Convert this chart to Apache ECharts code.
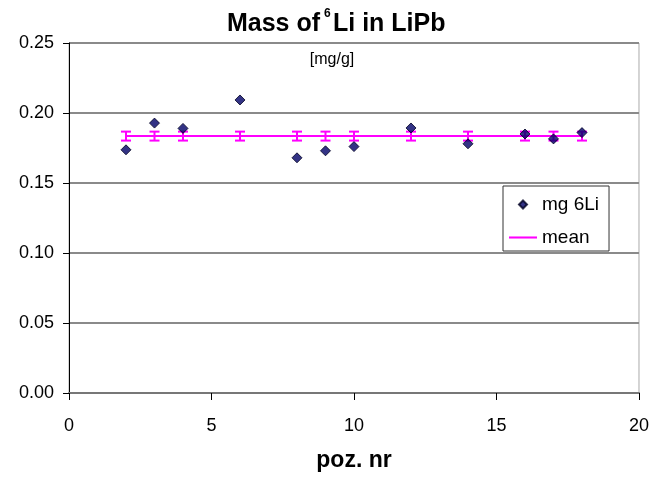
<!DOCTYPE html>
<html>
<head>
<meta charset="utf-8">
<script src="https://cdn.jsdelivr.net/npm/echarts@6/dist/echarts.min.js"></script>
<style>
  html, body { margin: 0; padding: 0; background: #fff; }
  #chart { width: 652px; height: 477px; }
</style>
</head>
<body>
<div id="chart"></div>
<script>
// positions (poz. nr) and measured mass of 6Li [mg/g]
const positions = [2, 3, 4, 6, 8, 9, 10, 12, 14, 16, 17, 18];
const massLi6 = [0.1737, 0.1928, 0.189, 0.2093, 0.168, 0.173, 0.176, 0.1893, 0.178, 0.185, 0.1815, 0.186];
// mean value and its error bar half-width
const meanValue = 0.1835;
const meanError = 0.0032;
const yTicks = [0, 0.05, 0.1, 0.15, 0.2, 0.25];
const xTicks = [0, 5, 10, 15, 20];

const chart = echarts.init(document.getElementById('chart'));

const font = 'Liberation Sans, Arial, sans-serif';

const option = {
  animation: false,
  backgroundColor: '#fff',
  graphic: [
    // title: "Mass of  6Li in LiPb" with superscript 6
    { type: 'text', x: 320, y: 24, style: { text: 'Mass of', font: 'bold 25px ' + font, fill: '#000', align: 'right', verticalAlign: 'middle' } },
    { type: 'text', x: 324, y: 14, style: { text: '6', font: 'bold 12px ' + font, fill: '#000', align: 'left', verticalAlign: 'middle' } },
    { type: 'text', x: 333, y: 24, style: { text: 'Li in LiPb', font: 'bold 25px ' + font, fill: '#000', align: 'left', verticalAlign: 'middle' } },
    { type: 'text', x: 332, y: 60, style: { text: '[mg/g]', font: '16px ' + font, fill: '#000', align: 'center', verticalAlign: 'middle' } }
  ],
  legend: {
    orient: 'vertical',
    left: 503,
    top: 186,
    itemGap: 14,
    padding: [9, 10, 4, 6],
    borderColor: '#333',
    borderWidth: 1,
    backgroundColor: '#fff',
    itemWidth: 28,
    itemHeight: 8,
    textStyle: { fontFamily: font, fontSize: 19, color: '#000' },
    data: [
      { name: 'mg 6Li', icon: 'path://M5,0 L10,5 L5,10 L0,5 Z' },
      { name: 'mean', icon: 'path://M0,0 L27,0 L27,2 L0,2 Z' }
    ]
  },
  grid: {
    left: 69,
    right: 11,
    top: 43,
    bottom: 80,
    show: true,
    borderColor: '#aaa',
    borderWidth: 1
  },
  xAxis: {
    type: 'value',
    min: 0,
    max: 20,
    interval: 5,
    name: 'poz. nr',
    nameLocation: 'middle',
    nameGap: 56,
    nameTextStyle: { fontFamily: font, fontWeight: 'bold', fontSize: 23, color: '#000' },
    axisLine: { show: true, lineStyle: { color: '#777', width: 2 } },
    axisTick: { show: true, inside: false, length: 7, lineStyle: { color: '#000' } },
    axisLabel: { fontFamily: font, fontSize: 18, color: '#000', margin: 24,
      formatter: v => xTicks.includes(v) ? String(v) : '' },
    splitLine: { show: false }
  },
  yAxis: {
    type: 'value',
    min: 0,
    max: 0.25,
    interval: 0.05,
    axisLine: { show: true, lineStyle: { color: '#000', width: 1 } },
    axisTick: { show: true, inside: false, length: 6, lineStyle: { color: '#000' } },
    axisLabel: { fontFamily: font, fontSize: 18, color: '#000', margin: 15,
      formatter: v => yTicks.some(t => Math.abs(t - v) < 1e-9) ? v.toFixed(2) : '' },
    splitLine: { show: true, lineStyle: { color: '#8a8a8a', width: 2 } }
  },
  series: [
    {
      name: 'mean',
      type: 'line',
      data: [[positions[0], meanValue], [positions[positions.length - 1], meanValue]],
      symbol: 'none',
      itemStyle: { color: '#ff00ff' },
      lineStyle: { color: '#ff00ff', width: 2 },
      z: 2
    },
    {
      name: 'mean-err',
      type: 'custom',
      data: positions.map(x => [x, meanValue - meanError, meanValue + meanError]),
      renderItem: function (params, api) {
        const lo = api.coord([api.value(0), api.value(1)]);
        const hi = api.coord([api.value(0), api.value(2)]);
        const w = 5;
        const st = { stroke: '#ff00ff', lineWidth: 2 };
        return {
          type: 'group',
          children: [
            { type: 'line', shape: { x1: lo[0], y1: lo[1], x2: hi[0], y2: hi[1] }, style: st },
            { type: 'line', shape: { x1: lo[0] - w, y1: lo[1], x2: lo[0] + w, y2: lo[1] }, style: st },
            { type: 'line', shape: { x1: hi[0] - w, y1: hi[1], x2: hi[0] + w, y2: hi[1] }, style: st }
          ]
        };
      },
      z: 3
    },
    {
      name: 'mg 6Li',
      type: 'scatter',
      data: positions.map((x, i) => [x, massLi6[i]]),
      symbol: 'diamond',
      symbolSize: 10,
      itemStyle: { color: '#000066', borderColor: '#000022', borderWidth: 1 },
      z: 4
    }
  ]
};

chart.setOption(option);
</script>
</body>
</html>
